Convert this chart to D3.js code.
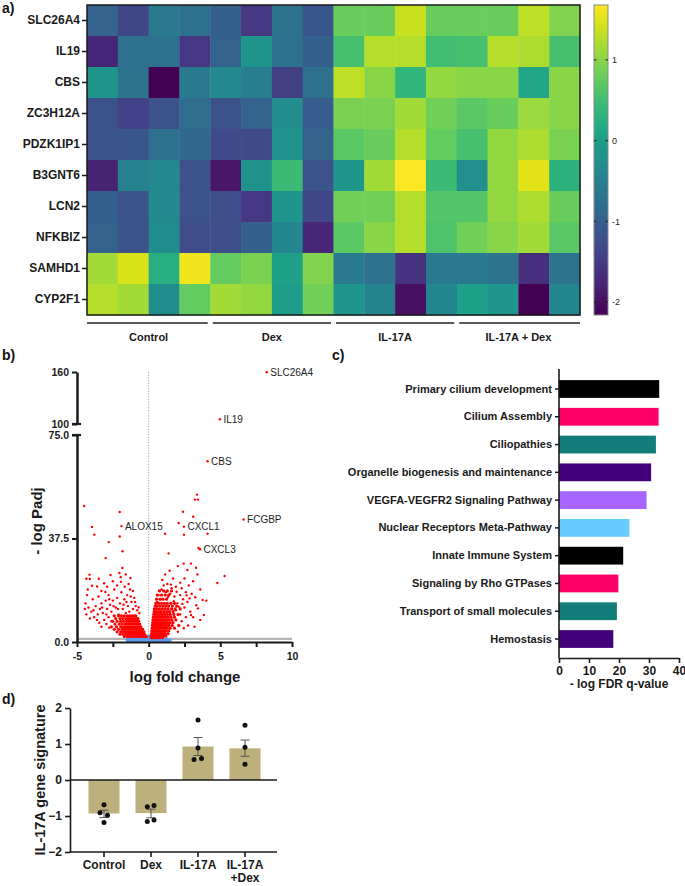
<!DOCTYPE html>
<html><head><meta charset="utf-8">
<script src="https://cdn.jsdelivr.net/npm/d3@7"></script>
<style>
body{margin:0;background:#fff;}
svg{display:block;}
</style></head><body>
<svg id="fig" width="685" height="886"></svg>
<script>
// ---------- DATA ----------
const genes = ["SLC26A4","IL19","CBS","ZC3H12A","PDZK1IP1","B3GNT6","LCN2","NFKBIZ","SAMHD1","CYP2F1"];
const heatValues = [
 [-0.95,-1.35,-0.6,-0.75,-1.0,-1.55,-0.7,-1.15, 0.8,0.8,1.35,0.8,0.8,0.8,1.3,0.95],
 [-1.75,-0.75,-0.75,-1.55,-0.95,-0.15,-0.75,-1.0, 0.55,1.25,1.25,0.5,0.55,1.25,1.2,0.55],
 [-0.15,-0.7,-2.16,-0.6,-0.35,-0.55,-1.45,-0.75, 1.3,1.0,0.35,1.05,1.0,1.0,0.1,1.0],
 [-1.2,-1.4,-1.2,-0.8,-1.2,-0.95,-0.3,-1.05, 0.9,0.9,1.15,0.85,0.7,0.8,1.1,1.0],
 [-1.2,-1.15,-0.75,-0.9,-1.3,-1.3,-0.2,-0.95, 0.7,0.8,1.25,0.75,0.55,1.05,1.2,0.9],
 [-1.8,-0.5,-0.35,-1.2,-1.95,-0.2,0.45,-1.2, -0.15,1.15,1.68,0.45,-0.25,1.05,1.5,0.3],
 [-1.0,-1.2,-0.35,-1.2,-1.25,-1.55,-0.15,-1.35, 0.85,0.85,1.25,0.65,0.65,1.05,1.2,0.8],
 [-0.95,-1.2,-0.3,-1.25,-1.25,-1.0,-0.4,-1.75, 0.7,1.0,1.25,0.6,0.85,1.0,1.15,0.7],
 [1.15,1.45,0.25,1.6,0.75,0.9,0.0,0.95, -0.6,-0.75,-1.6,-0.6,-0.6,-0.7,-1.65,-0.7],
 [1.25,1.15,-0.3,0.75,1.15,1.05,-0.05,0.85, -0.15,-0.45,-2.0,-0.4,0.0,-0.15,-2.16,-0.4]
];
const sampleGroups = ["Control","Dex","IL-17A","IL-17A + Dex"];
const colorDomain = [-2.16, 1.68];
const colorbarTicks = [-2,-1,0,1];

// volcano: [log fold change, -log Padj]
const volcanoRedOutliers = [
 [8.24,159.7],[4.97,105.4],[4.11,65.5],[3.37,53.4],[3.23,51.6],[3.44,51.6],[2.39,47.2],[3.11,45.4],[2.09,43.1],[2.46,41.8],
 [1.14,39.2],[2.46,38.9],[4.11,39.2],[6.62,44.4],[3.48,34.1],[3.58,33.6],[1.39,32.1],[2.44,28.4],[2.95,28.4],[2.04,27.5],
 [3.3,26.9],[1.46,25.8],[2.7,26.1],[5.3,23.9],[4.79,21.4],[3.76,15.2],[4.02,15],[3.32,13.3],[3.44,12.2],[2.95,9.8],[3.85,9.8],[3.6,8],
 [-4.5,49.3],[-2.02,47.1],[-3.95,41.7],[-1.9,42],[-3.79,38.9],[-2.02,38.2],[-2.79,36.2],[-1.82,32.9],[-3.0,30.4],[-1.83,26.8],
 [-4.13,24.4],[-4.34,22.9],[-4.11,22.8],[-3.48,22.9],[-2.04,25],[-1.27,23.2],[-2.66,24.3],[-3.11,21.3],[-3.95,20.4],[-3.6,20.1],
 [-1.93,21.8],[-1.67,20],[-3.02,18.1]
];
const volcanoRedScatter = [
 [0.95,22.5],[1.15,24.5],[1.7,23],[2.2,21.5],[2.5,23],[2.3,19.5],[2.8,20.5],[3.1,22],[3.4,24.5],[1.9,20],[1.6,19.5],[1.3,21],
 [2.6,18],[2.2,17],[3.0,17.5],[3.6,19],[2.9,11],[3.1,9],[2.5,12.5],[2.7,14.5],[2.4,15.5],[2.0,14],[1.8,16.5],[1.5,17.5],[1.2,18],
 [0.9,19],[0.7,17],[0.6,14.5],[2.2,10],[2.6,9],[2.3,7.5],[1.9,11.5],[2.75,6],[3.2,5.5],[2.45,5],[2.1,12.8],[2.35,13.8],[1.75,14.8],
 [1.55,20.8],[1.05,20.5],[2.85,15.8],[3.25,16.2],[2.65,16.9],[1.95,18.2],[0.8,15.5],[1.35,16.3],[2.04,3.7],
 [-4.3,17],[-4.4,14],[-4.2,12.5],[-4.0,11],[-4.35,10],[-3.9,15.5],[-3.7,13],[-3.5,16.5],[-3.4,12],[-3.3,14],[-3.2,10.5],[-3.0,15],
 [-2.9,12],[-2.8,17],[-2.7,13.5],[-2.6,11],[-2.5,15],[-2.4,19],[-2.3,12.5],[-2.2,16],[-2.1,10],[-2.0,14],[-1.9,18],[-1.8,12],
 [-1.7,15.5],[-1.6,10.5],[-1.5,17],[-1.45,13],[-1.35,11],[-1.3,19],[-1.2,14.5],[-1.1,12],[-1.0,16],[-0.9,13],[-0.8,11.5],
 [-2.5,22],[-2.2,20.5],[-1.95,23.5],[-1.6,24.5],[-1.4,21],[-1.1,18.5],[-2.9,20],[-3.3,18.5],[-4.25,19],[-3.8,9],[-3.6,8],[-4.1,8.5],
 [-3.1,8],[-2.8,9],[-2.6,7.5],[-4.45,12],[-3.85,11.5],[-3.55,10],[-3.25,12.5],[-2.95,10],[-2.75,15.5],[-2.45,13],[-2.15,12],
 [-1.75,13.5],[-1.55,14.5],[-1.25,16.5],[-0.95,14.5],[-0.7,12.5],[-0.65,10.5],[-3.45,7],[-2.95,6.5],[-3.3,5.5],[-2.75,5.2]
];
const volcanoRedCore = [
 [-2.4,9.5],[-2.1,9.5],[-1.9,9.5],[-1.7,9.5],[-1.5,9.5],[-1.35,9.5],[-1.2,9.5],[-1.05,9.5],[-0.9,9.5],
 [-2.3,8.5],[-2.0,8.5],[-1.8,8.5],[-1.6,8.5],[-1.45,8.5],[-1.3,8.5],[-1.15,8.5],[-1.0,8.5],[-0.85,8.5],[-0.75,8.5],
 [-2.5,7.5],[-2.2,7.5],[-1.95,7.5],[-1.75,7.5],[-1.55,7.5],[-1.4,7.5],[-1.25,7.5],[-1.1,7.5],[-0.95,7.5],[-0.8,7.5],[-0.7,7.5],
 [-2.35,6.5],[-2.05,6.5],[-1.85,6.5],[-1.65,6.5],[-1.5,6.5],[-1.35,6.5],[-1.2,6.5],[-1.05,6.5],[-0.9,6.5],[-0.75,6.5],[-0.62,6.5],
 [-2.6,5.5],[-2.25,5.5],[-1.95,5.5],[-1.75,5.5],[-1.6,5.5],[-1.45,5.5],[-1.3,5.5],[-1.15,5.5],[-1.0,5.5],[-0.85,5.5],[-0.7,5.5],[-0.55,5.5],
 [-2.4,4.6],[-2.1,4.6],[-1.85,4.6],[-1.7,4.6],[-1.55,4.6],[-1.4,4.6],[-1.25,4.6],[-1.1,4.6],[-0.95,4.6],[-0.8,4.6],[-0.65,4.6],[-0.5,4.6],[-0.42,4.6],
 [-2.2,3.7],[-1.95,3.7],[-1.75,3.7],[-1.6,3.7],[-1.45,3.7],[-1.3,3.7],[-1.15,3.7],[-1.0,3.7],[-0.85,3.7],[-0.7,3.7],[-0.55,3.7],[-0.42,3.7],[-0.33,3.7],
 [-2.0,2.8],[-1.8,2.8],[-1.6,2.8],[-1.45,2.8],[-1.3,2.8],[-1.15,2.8],[-1.0,2.8],[-0.85,2.8],[-0.7,2.8],[-0.58,2.8],[-0.46,2.8],[-0.36,2.8],[-0.28,2.8],
 [-1.7,2.0],[-1.5,2.0],[-1.35,2.0],[-1.2,2.0],[-1.05,2.0],[-0.9,2.0],[-0.75,2.0],[-0.62,2.0],[-0.5,2.0],[-0.4,2.0],[-0.3,2.0],[-0.22,2.0],[-0.17,2.0],
 [0.55,15.5],[0.8,15.5],[1.0,15.5],[1.25,15.5],[0.6,17],[0.9,17],[1.15,17],[1.4,17],[0.75,18.5],[1.05,18.5],[1.3,18.5],[1.6,18.5],
 [0.5,14],[0.7,14],[0.9,14],[1.1,14],[1.3,14],[1.55,14],[1.8,14],
 [0.45,13],[0.6,13],[0.8,13],[1.0,13],[1.2,13],[1.4,13],[1.65,13],[1.95,13],
 [0.4,12],[0.55,12],[0.75,12],[0.95,12],[1.15,12],[1.35,12],[1.6,12],[1.85,12],[2.2,12],
 [0.38,11],[0.52,11],[0.68,11],[0.85,11],[1.05,11],[1.25,11],[1.45,11],[1.7,11],
 [0.35,10],[0.48,10],[0.62,10],[0.78,10],[0.95,10],[1.12,10],[1.3,10],[1.5,10],[1.75,10],[2.05,10],
 [0.33,9],[0.45,9],[0.58,9],[0.72,9],[0.88,9],[1.02,9],[1.18,9],[1.35,9],[1.55,9],[1.8,9],
 [0.3,8],[0.42,8],[0.55,8],[0.68,8],[0.82,8],[0.96,8],[1.1,8],[1.25,8],[1.42,8],[1.62,8],[1.9,8],
 [0.28,7],[0.4,7],[0.52,7],[0.64,7],[0.77,7],[0.9,7],[1.03,7],[1.17,7],[1.32,7],[1.5,7],[1.7,7],
 [0.26,6],[0.37,6],[0.49,6],[0.6,6],[0.72,6],[0.84,6],[0.97,6],[1.1,6],[1.25,6],[1.42,6],[1.65,6],[2.1,6],
 [0.24,5],[0.34,5],[0.45,5],[0.56,5],[0.67,5],[0.78,5],[0.9,5],[1.02,5],[1.15,5],[1.3,5],[1.5,5],[1.8,5],
 [0.22,4],[0.31,4],[0.41,4],[0.51,4],[0.62,4],[0.72,4],[0.83,4],[0.95,4],[1.08,4],[1.22,4],[1.4,4],
 [0.2,3],[0.28,3],[0.37,3],[0.46,3],[0.56,3],[0.66,3],[0.77,3],[0.88,3],[1.0,3],[1.15,3],[1.35,3],
 [0.18,2.2],[0.26,2.2],[0.34,2.2],[0.42,2.2],[0.51,2.2],[0.6,2.2],[0.7,2.2],[0.8,2.2],[0.92,2.2],[1.05,2.2],[1.2,2.2],
 [0.17,1.6],[0.24,1.6],[0.31,1.6],[0.38,1.6],[0.46,1.6],[0.55,1.6],[0.64,1.6],[0.74,1.6],[0.85,1.6],[0.97,1.6]
];
const volcanoBlue = [
 [-1.45,1.15],[-1.25,1.15],[-1.05,1.15],[-0.85,1.15],[-0.65,1.15],[-0.45,1.15],[-0.25,1.15],[-0.1,1.15],[0.1,1.15],[0.25,1.15],[0.45,1.15],[0.65,1.15],[0.85,1.15],[1.05,1.15],[1.25,1.15],
 [-1.5,0.7],[-1.3,0.7],[-1.1,0.7],[-0.9,0.7],[-0.7,0.7],[-0.5,0.7],[-0.3,0.7],[-0.15,0.7],[0,0.7],[0.15,0.7],[0.3,0.7],[0.5,0.7],[0.7,0.7],[0.9,0.7],[1.1,0.7],[1.3,0.7],[1.5,0.7],
 [-1.4,0.25],[-1.2,0.25],[-1.0,0.25],[-0.8,0.25],[-0.6,0.25],[-0.4,0.25],[-0.2,0.25],[-0.05,0.25],[0.05,0.25],[0.2,0.25],[0.4,0.25],[0.6,0.25],[0.8,0.25],[1.0,0.25],[1.2,0.25],[1.4,0.25],
 [-0.12,1.6],[0.0,1.4],[0.12,1.6],[-0.05,2.0],[0.06,2.1]
];
const volcanoLabels = [
 {gene:"SLC26A4", lfc:8.24, p:159.7},{gene:"IL19", lfc:4.97, p:105.4},{gene:"CBS", lfc:4.11, p:65.5},
 {gene:"FCGBP", lfc:6.62, p:44.4},{gene:"CXCL1", lfc:2.46, p:41.8},{gene:"CXCL3", lfc:3.58, p:33.6},{gene:"ALOX15", lfc:-1.9, p:42}
];
const volcanoXTicks = [-5,-2.5,0,2.5,5,7.5,10];
const volcanoYTicksLow = [0,37.5,75];
const volcanoYTicksHigh = [100,160];

const pathways = ["Primary cilium development","Cilium Assembly","Ciliopathies","Organelle biogenesis and maintenance",
 "VEGFA-VEGFR2 Signaling Pathway","Nuclear Receptors Meta-Pathway","Innate Immune System","Signaling by Rho GTPases",
 "Transport of small molecules","Hemostasis"];
const fdrValues = [33.4,33.2,32.3,30.7,29.2,23.5,21.4,19.8,19.3,18.1];
const pathwayColors = ["#000000","#ff0066","#137d79","#42007a","#a766ff","#66ccff","#000000","#ff0066","#137d79","#42007a"];
const fdrTicks = [0,10,20,30,40];

const sigGroups = ["Control","Dex","IL-17A","IL-17A +Dex"];
const sigMeans = [-0.93,-0.92,0.93,0.88];
const sigErrLow = [-1.04,-1.05,0.68,0.66];
const sigErrHigh = [-0.84,-0.81,1.18,1.11];
const sigPoints = [
 [-0.69,-0.91,-0.98,-1.18],
 [-0.74,-0.71,-1.15,-1.11],
 [1.67,0.89,0.57,0.6],
 [1.52,0.91,0.44]
];
const sigJitter = [[0,-4,3.5,0],[-3.7,3,-3.7,3],[0,0,-4,3.5],[0,0,0]];
const sigTicks = [-2,-1,0,1,2];

// ---------- DRAW ----------
const FONT = '"Liberation Sans", Arial, sans-serif';
const svg = d3.select("#fig").attr("font-family", FONT);
function styleAxis(g, size, weight, sw) {
  g.attr("font-family", FONT).attr("font-size", size).attr("font-weight", weight);
  g.selectAll("text").attr("fill", "#1a1a1a");
  g.selectAll(".tick line").attr("stroke", "#1a1a1a").attr("stroke-width", sw);
  g.select(".domain").attr("stroke", "#1a1a1a").attr("stroke-width", sw);
}
function panelLabel(t, x, y) {
  svg.append("text").attr("x", x).attr("y", y).attr("font-size", 14).attr("font-weight", "bold")
    .attr("fill", "#111").text(t);
}

// ----- Panel a: heatmap -----
const hx = d3.scaleBand().domain(d3.range(16)).range([87, 580]);
const hy = d3.scaleBand().domain(genes).range([5, 315]);
const hc = d3.scaleSequential(d3.interpolateViridis).domain(colorDomain);
const cells = [];
genes.forEach((g, i) => heatValues[i].forEach((v, j) => cells.push({g, j, v})));
svg.append("g").selectAll("rect").data(cells).join("rect")
  .attr("x", d => hx(d.j)).attr("y", d => hy(d.g))
  .attr("width", hx.bandwidth() + 0.4).attr("height", hy.bandwidth() + 0.4)
  .attr("fill", d => hc(d.v));
svg.append("rect").attr("x", 87).attr("y", 5).attr("width", 493).attr("height", 310)
  .attr("fill", "none").attr("stroke", "#1a1a1a").attr("stroke-width", 1.5);
const gAx = svg.append("g").attr("transform", "translate(87,0)")
  .call(d3.axisLeft(hy).tickSize(5).tickSizeOuter(0).tickPadding(2));
styleAxis(gAx, 12, "bold", 1.5);
gAx.select(".domain").remove();

sampleGroups.forEach((name, k) => {
  const x0 = hx(4 * k) + (k > 0 ? 2.5 : 0);
  const x1 = hx(4 * k + 3) + hx.bandwidth() - (k < 3 ? 2.5 : 0);
  svg.append("line").attr("x1", x0).attr("x2", x1).attr("y1", 323).attr("y2", 323)
    .attr("stroke", "#222").attr("stroke-width", 1.6);
  svg.append("text").attr("x", (hx(4 * k) + hx(4 * k + 3) + hx.bandwidth()) / 2).attr("y", 341)
    .attr("text-anchor", "middle").attr("font-size", 11).attr("font-weight", "bold").attr("fill", "#1a1a1a").text(name);
});

// colorbar
const defs = svg.append("defs");
const grad = defs.append("linearGradient").attr("id", "cbgrad").attr("x1", 0).attr("x2", 0).attr("y1", 1).attr("y2", 0);
d3.range(0, 1.0001, 0.05).forEach(t => {
  grad.append("stop").attr("offset", t).attr("stop-color", d3.interpolateViridis(t));
});
const cbY = d3.scaleLinear().domain(colorDomain).range([315, 5]);
svg.append("rect").attr("x", 594).attr("y", 5).attr("width", 14).attr("height", 310)
  .attr("fill", "url(#cbgrad)").attr("stroke", "#888").attr("stroke-width", 1);
colorbarTicks.forEach(t => {
  svg.append("line").attr("x1", 594).attr("x2", 596.5).attr("y1", cbY(t)).attr("y2", cbY(t)).attr("stroke", "#222");
  svg.append("line").attr("x1", 605.5).attr("x2", 608).attr("y1", cbY(t)).attr("y2", cbY(t)).attr("stroke", "#222");
  svg.append("text").attr("x", 612).attr("y", cbY(t)).attr("dy", "0.35em").attr("font-size", 9)
    .attr("fill", "#222").text(t);
});
panelLabel("a)", 2, 13);

// ----- Panel b: volcano -----
const xV = d3.scaleLinear().domain([-5, 10]).range([77, 292]);
const yLo = d3.scaleLinear().domain([0, 75]).range([642, 435]);
const yHi = d3.scaleLinear().domain([100, 160]).range([424, 372]);
const yV = p => p >= 100 ? yHi(p) : yLo(p);

svg.append("line").attr("x1", 77).attr("x2", 292).attr("y1", yLo(1.1)).attr("y2", yLo(1.1))
  .attr("stroke", "#b4b4b4").attr("stroke-width", 2.2);
svg.append("line").attr("x1", xV(0)).attr("x2", xV(0)).attr("y1", 372).attr("y2", 642)
  .attr("stroke", "#999").attr("stroke-width", 0.9).attr("stroke-dasharray", "1.2,1.5");

svg.append("g").selectAll("circle").data(volcanoBlue).join("circle")
  .attr("cx", d => xV(d[0])).attr("cy", d => yV(d[1])).attr("r", 1.7).attr("fill", "#5b9bec");
svg.append("g").selectAll("circle").data(volcanoRedCore).join("circle")
  .attr("cx", d => xV(d[0])).attr("cy", d => yV(d[1])).attr("r", 1.6).attr("fill", "#ff0000");
svg.append("g").selectAll("circle").data(volcanoRedOutliers.concat(volcanoRedScatter)).join("circle")
  .attr("cx", d => xV(d[0])).attr("cy", d => yV(d[1])).attr("r", 1.2).attr("fill", "#ff0000");

svg.append("g").selectAll("text").data(volcanoLabels).join("text")
  .attr("x", d => xV(d.lfc) + 3.5).attr("y", d => yV(d.p) + 3.6)
  .attr("font-size", 10).attr("fill", "#222").text(d => d.gene);

const gVx = svg.append("g").attr("transform", "translate(0,642)")
  .call(d3.axisBottom(xV).tickValues(volcanoXTicks).tickSize(5).tickSizeOuter(0).tickPadding(6)
    .tickFormat(d => (d % 5 === 0 ? d : "")));
styleAxis(gVx, 10.5, "bold", 2);
const gVyL = svg.append("g").attr("transform", "translate(77,0)")
  .call(d3.axisLeft(yLo).tickValues(volcanoYTicksLow).tickSize(5).tickSizeOuter(0).tickFormat(d3.format(".1f")));
styleAxis(gVyL, 10.5, "bold", 2);
gVyL.select(".domain").attr("stroke-width", 2.5);
const gVyH = svg.append("g").attr("transform", "translate(77,0)")
  .call(d3.axisLeft(yHi).tickValues(volcanoYTicksHigh).tickSize(5).tickSizeOuter(0).tickFormat(d3.format("d")));
styleAxis(gVyH, 10.5, "bold", 2);
gVyH.select(".domain").attr("stroke-width", 2.5);
[yLo(75), yHi(100)].forEach(y => {
  svg.append("line").attr("x1", 72).attr("x2", 81).attr("y1", y).attr("y2", y)
    .attr("stroke", "#1a1a1a").attr("stroke-width", 2.2);
});
svg.append("text").attr("transform", "translate(42,521) rotate(-90)").attr("text-anchor", "middle")
  .attr("font-size", 15).attr("font-weight", "bold").attr("fill", "#1a1a1a").text("- log Padj");
svg.append("text").attr("x", 185).attr("y", 682).attr("text-anchor", "middle")
  .attr("font-size", 15).attr("font-weight", "bold").attr("fill", "#1a1a1a").text("log fold change");
panelLabel("b)", 2, 360);

// ----- Panel c: pathways -----
const xC = d3.scaleLinear().domain([0, 40]).range([559, 679]);
const yC = d3.scaleBand().domain(pathways).range([375.1, 652.9]).paddingInner(0.36).paddingOuter(0.18);
svg.append("g").selectAll("rect").data(pathways).join("rect")
  .attr("x", xC(0)).attr("y", d => yC(d)).attr("width", (d, i) => xC(fdrValues[i]) - xC(0))
  .attr("height", yC.bandwidth()).attr("fill", (d, i) => pathwayColors[i]);
const gCy = svg.append("g").attr("transform", "translate(559,0)")
  .call(d3.axisLeft(yC).tickSize(4).tickSizeOuter(0).tickPadding(3));
styleAxis(gCy, 11, "bold", 1.5);
gCy.select(".domain").remove();
svg.append("line").attr("x1", 559).attr("x2", 559).attr("y1", 369).attr("y2", 658.5)
  .attr("stroke", "#1a1a1a").attr("stroke-width", 1.6);
const gCx = svg.append("g").attr("transform", "translate(0,658)")
  .call(d3.axisBottom(xC).tickValues(fdrTicks).tickSize(5).tickSizeOuter(0));
styleAxis(gCx, 12, "bold", 1.6);
svg.append("text").attr("x", 619).attr("y", 688).attr("text-anchor", "middle")
  .attr("font-size", 12).attr("font-weight", "bold").attr("fill", "#1a1a1a").text("- log FDR q-value");
panelLabel("c)", 332, 360);

// ----- Panel d: gene signature -----
const xD = d3.scaleBand().domain(sigGroups).range([80.5, 268.5]).paddingInner(0.34).paddingOuter(0.17);
const yD = d3.scaleLinear().domain([-2, 2]).range([852, 708]);
svg.append("g").selectAll("rect").data(sigGroups).join("rect")
  .attr("x", d => xD(d)).attr("width", xD.bandwidth())
  .attr("y", (d, i) => Math.min(yD(0), yD(sigMeans[i])))
  .attr("height", (d, i) => Math.abs(yD(sigMeans[i]) - yD(0)))
  .attr("fill", "#bdb07b");
const gDy = svg.append("g").attr("transform", "translate(70,0)")
  .call(d3.axisLeft(yD).tickValues(sigTicks).tickSize(5).tickSizeOuter(0).tickFormat(d3.format("d")));
styleAxis(gDy, 12, "bold", 1.6);
svg.append("line").attr("x1", 70).attr("x2", 277).attr("y1", yD(0)).attr("y2", yD(0))
  .attr("stroke", "#1a1a1a").attr("stroke-width", 1.6);
svg.append("line").attr("x1", 70).attr("x2", 277).attr("y1", yD(-2)).attr("y2", yD(-2))
  .attr("stroke", "#1a1a1a").attr("stroke-width", 1.6);
sigGroups.forEach((g, i) => {
  const cx = xD(g) + xD.bandwidth() / 2;
  svg.append("line").attr("x1", cx).attr("x2", cx).attr("y1", yD(-2)).attr("y2", yD(-2) + 5)
    .attr("stroke", "#1a1a1a").attr("stroke-width", 1.6);
  const parts = g.split(" ");
  parts.forEach((p, k) => {
    svg.append("text").attr("x", cx).attr("y", 869 + k * 13).attr("text-anchor", "middle")
      .attr("font-size", 12).attr("font-weight", "bold").attr("fill", "#1a1a1a").text(p);
  });
  // error bars
  svg.append("line").attr("x1", cx).attr("x2", cx).attr("y1", yD(sigErrLow[i])).attr("y2", yD(sigErrHigh[i]))
    .attr("stroke", "#555").attr("stroke-width", 1);
  [sigErrLow[i], sigErrHigh[i]].forEach(v => {
    svg.append("line").attr("x1", cx - 4.5).attr("x2", cx + 4.5).attr("y1", yD(v)).attr("y2", yD(v))
      .attr("stroke", "#555").attr("stroke-width", 1);
  });
  svg.append("g").selectAll("circle").data(sigPoints[i]).join("circle")
    .attr("cx", (v, k) => cx + sigJitter[i][k]).attr("cy", v => yD(v)).attr("r", 2.5).attr("fill", "#111");
});
svg.append("text").attr("transform", "translate(45,780) rotate(-90)").attr("text-anchor", "middle")
  .attr("font-size", 14.5).attr("font-weight", "bold").attr("fill", "#1a1a1a").text("IL-17A gene signature");
panelLabel("d)", 2, 704);
</script>
</body></html>
